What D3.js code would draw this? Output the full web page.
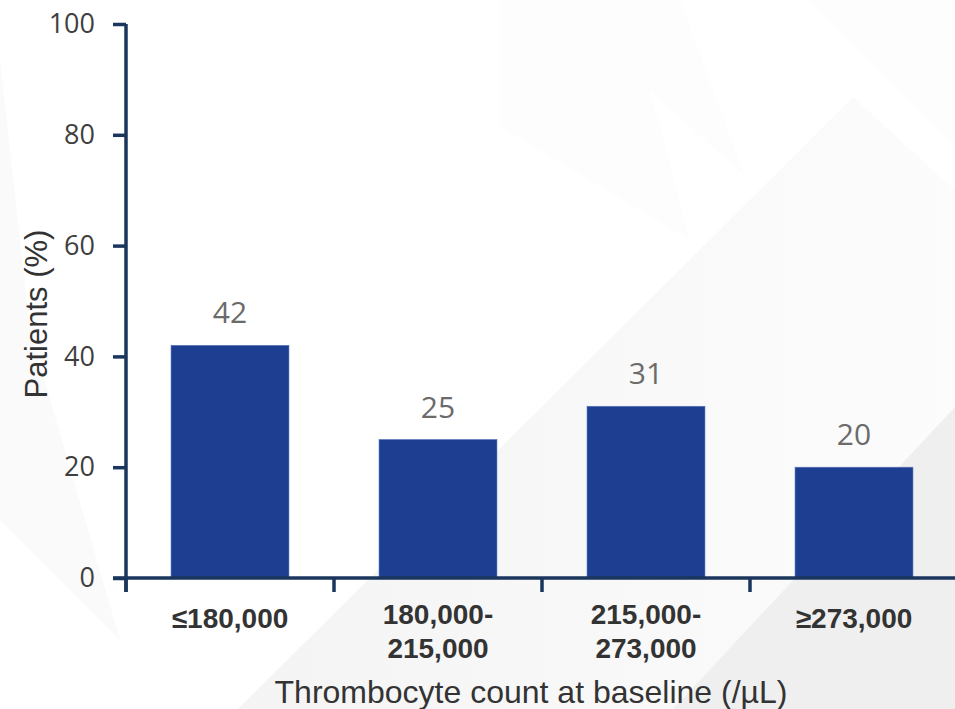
<!DOCTYPE html>
<html>
<head>
<meta charset="utf-8">
<script src="https://cdn.jsdelivr.net/npm/d3@7"></script>
<style>
  html, body { margin: 0; padding: 0; background: #ffffff; }
  svg { display: block; }
</style>
</head>
<body>
<svg id="chart" width="955" height="709"></svg>
<script>
// ---- data ----
const categories = [["\u2264180,000"], ["180,000-", "215,000"], ["215,000-", "273,000"], ["\u2265273,000"]];
const values = [42, 25, 31, 20];
const yTicks = [0, 20, 40, 60, 80, 100];
const yTitle = "Patients (%)";
const xTitle = "Thrombocyte count at baseline (/\u00b5L)";

// ---- layout ----
const W = 955, H = 709;
const svg = d3.select("#chart");

// subtle background shapes
const defs = svg.append("defs");
const g1 = defs.append("linearGradient").attr("id", "bg1").attr("x1", "0").attr("x2", "1").attr("y1", "0").attr("y2", "0");
g1.append("stop").attr("offset", "0").attr("stop-color", "#f4f4f4");
g1.append("stop").attr("offset", "1").attr("stop-color", "#fcfcfc");

const bg = svg.append("g");
bg.append("path").attr("d", "M0,60 L30,330 L120,640 L0,520 Z").attr("fill", "#fafafa");
bg.append("path").attr("d", "M500,0 L680,0 L745,177 L650,90 L690,240 L500,127 Z").attr("fill", "#fdfdfd");
bg.append("path").attr("d", "M807,0 L955,0 L955,145 Z").attr("fill", "#fdfdfd");
bg.append("path").attr("d", "M238,709 L853,97 L955,190 L955,709 Z").attr("fill", "url(#bg1)");
bg.append("path").attr("d", "M673,709 L955,407 L955,709 Z").attr("fill", "#efefef");

const x = d3.scaleBand()
  .domain(d3.range(categories.length))
  .range([126, 958])
  .paddingInner(0.433)
  .paddingOuter(0.2165);

const y = d3.scaleLinear().domain([0, 100]).range([578, 24]);

const axisColor = "#1b365d";

// bars
svg.append("g").selectAll("rect")
  .data(values)
  .join("rect")
  .attr("x", (d, i) => x(i))
  .attr("y", d => y(d))
  .attr("width", x.bandwidth())
  .attr("height", d => y(0) - y(d))
  .attr("fill", "#1e3f91")
  .attr("stroke", "#5a78bb")
  .attr("stroke-width", 0.6);

// value labels
svg.append("g").selectAll("text")
  .data(values)
  .join("text")
  .attr("x", (d, i) => x(i) + x.bandwidth() / 2)
  .attr("y", d => y(d) - 22)
  .attr("text-anchor", "middle")
  .attr("font-family", "'Open Sans', sans-serif")
  .attr("font-size", 30)
  .attr("fill", "#6b6b6b")
  .text(d => d);

// y axis
const yAxis = svg.append("g")
  .attr("transform", "translate(126,0)")
  .call(d3.axisLeft(y).tickValues(yTicks).tickSize(13).tickPadding(18).tickFormat(d3.format("d")));
yAxis.select(".domain").attr("stroke", axisColor).attr("stroke-width", 3.5).attr("d", "M0,24V592");
yAxis.selectAll(".tick line").attr("stroke", axisColor).attr("stroke-width", 3.5);
yAxis.selectAll(".tick text")
  .attr("font-family", "'Open Sans', sans-serif")
  .attr("font-size", 27)
  .attr("fill", "#3f3f3f");

// x axis line and boundary ticks
const xAxisG = svg.append("g");
xAxisG.append("line")
  .attr("x1", 113).attr("x2", W)
  .attr("y1", y(0)).attr("y2", y(0))
  .attr("stroke", axisColor).attr("stroke-width", 3.5);
const gap = (x.step() - x.bandwidth()) / 2;
xAxisG.selectAll("line.tick")
  .data(d3.range(categories.length + 1))
  .join("line")
  .attr("class", "tick")
  .attr("x1", i => (i < categories.length ? x(i) - gap : x(i - 1) + x.bandwidth() + gap))
  .attr("x2", i => (i < categories.length ? x(i) - gap : x(i - 1) + x.bandwidth() + gap))
  .attr("y1", y(0)).attr("y2", y(0) + 14)
  .attr("stroke", axisColor).attr("stroke-width", 3.5);

// category labels
const catG = svg.append("g").selectAll("text")
  .data(categories)
  .join("text")
  .attr("x", (d, i) => x(i) + x.bandwidth() / 2)
  .attr("y", d => d.length > 1 ? 624 : 628)
  .attr("text-anchor", "middle")
  .attr("font-family", "'Liberation Sans', Arial, sans-serif")
  .attr("font-weight", "bold")
  .attr("font-size", 28)
  .attr("fill", "#333333");
catG.each(function(d, i) {
  const t = d3.select(this);
  const cx = x(i) + x.bandwidth() / 2;
  d.forEach((line, k) => {
    t.append("tspan").attr("x", cx).attr("dy", k === 0 ? 0 : 34).text(line);
  });
});

// axis titles
svg.append("text")
  .attr("x", 531).attr("y", 703)
  .attr("text-anchor", "middle")
  .attr("font-family", "'Liberation Sans', Arial, sans-serif")
  .attr("font-size", 32)
  .attr("fill", "#333333")
  .text(xTitle);

svg.append("text")
  .attr("transform", "translate(47,314) rotate(-90)")
  .attr("text-anchor", "middle")
  .attr("font-family", "'Liberation Sans', Arial, sans-serif")
  .attr("font-size", 31)
  .attr("fill", "#333333")
  .text(yTitle);
</script>
</body>
</html>
